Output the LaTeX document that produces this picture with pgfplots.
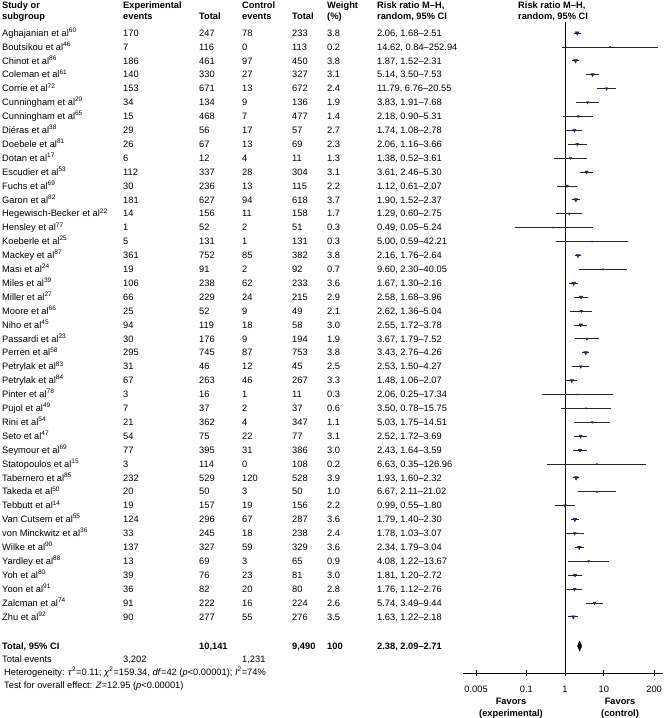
\documentclass[border=0pt]{standalone}
\usepackage{fontspec}
\setmainfont{Liberation Sans}
\usepackage{pgfplots}
\usepackage{pgfplotstable}
\pgfplotsset{compat=1.18}
\definecolor{mk}{HTML}{232A6E}

% row name ref exp-events exp-total ctl-events ctl-total weight rr lo hi
\pgfplotstableread{
row name sup ee et ce ct w rr lo hi
0 Aghajanian 60 170 247 78 233 3.8 2.06 1.68 2.51
1 Boutsikou 46 7 116 0 113 0.2 14.62 0.84 252.94
2 Chinot 86 186 461 97 450 3.8 1.87 1.52 2.31
3 Coleman 61 140 330 27 327 3.1 5.14 3.50 7.53
4 Corrie 72 153 671 13 672 2.4 11.79 6.76 20.55
5 Cunningham 20 34 134 9 136 1.9 3.83 1.91 7.68
6 Cunningham 65 15 468 7 477 1.4 2.18 0.90 5.31
7 Diéras 38 29 56 17 57 2.7 1.74 1.08 2.78
8 Doebele 81 26 67 13 69 2.3 2.06 1.16 3.66
9 Dotan 17 6 12 4 11 1.3 1.38 0.52 3.61
10 Escudier 53 112 337 28 304 3.1 3.61 2.46 5.30
11 Fuchs 69 30 236 13 115 2.2 1.12 0.61 2.07
12 Garon 82 181 627 94 618 3.7 1.90 1.52 2.37
13 Hegewisch-Becker 22 14 156 11 158 1.7 1.29 0.60 2.75
14 Hensley 77 1 52 2 51 0.3 0.49 0.05 5.24
15 Koeberle 25 5 131 1 131 0.3 5.00 0.59 42.21
16 Mackey 87 361 752 85 382 3.8 2.16 1.76 2.64
17 Masi 24 19 91 2 92 0.7 9.60 2.30 40.05
18 Miles 39 106 238 62 233 3.6 1.67 1.30 2.16
19 Miller 27 66 229 24 215 2.9 2.58 1.68 3.96
20 Moore 66 25 52 9 49 2.1 2.62 1.36 5.04
21 Niho 45 94 119 18 58 3.0 2.55 1.72 3.78
22 Passardi 23 30 176 9 194 1.9 3.67 1.79 7.52
23 Perren 58 295 745 87 753 3.8 3.43 2.76 4.26
24 Petrylak 83 31 46 12 45 2.5 2.53 1.50 4.27
25 Petrylak 84 67 263 46 267 3.3 1.48 1.06 2.07
26 Pinter 78 3 16 1 11 0.3 2.06 0.25 17.34
27 Pujol 49 7 37 2 37 0.6 3.50 0.78 15.75
28 Rini 54 21 362 4 347 1.1 5.03 1.75 14.51
29 Seto 47 54 75 22 77 3.1 2.52 1.72 3.69
30 Seymour 69 77 395 31 386 3.0 2.43 1.64 3.59
31 Statopoulos 15 3 114 0 108 0.2 6.63 0.35 126.96
32 Tabernero 85 232 529 120 528 3.9 1.93 1.60 2.32
33 Takeda 50 20 50 3 50 1.0 6.67 2.11 21.02
34 Tebbutt 14 19 157 19 156 2.2 0.99 0.55 1.80
35 {Van Cutsem} 55 124 296 67 287 3.6 1.79 1.40 2.30
36 {von Minckwitz} 36 33 245 18 238 2.4 1.78 1.03 3.07
37 Wilke 90 137 327 59 329 3.6 2.34 1.79 3.04
38 Yardley 88 13 69 3 65 0.9 4.08 1.22 13.67
39 Yoh 80 39 76 23 81 3.0 1.81 1.20 2.72
40 Yoon 91 36 82 20 80 2.8 1.76 1.12 2.76
41 Zalcman 74 91 222 16 224 2.6 5.74 3.49 9.44
42 Zhu 92 90 277 55 276 3.5 1.63 1.22 2.18
}\forest

\newcommand\fs{\fontsize{9.3bp}{11bp}\selectfont}
% text at x, pixel-row centre y (measured from the top)
\newcommand\T[3]{\node[anchor=base west, inner sep=0pt] at (#1,{718-#2-3.3}) {#3};}
\newcommand\C[3]{\node[anchor=base, inner sep=0pt] at (#1,{718-#2-3.3}) {#3};}

\begin{document}
\begin{tikzpicture}[x=1bp, y=1bp, font=\fs]
\useasboundingbox (0,0) rectangle (667,718);

\begin{axis}[
  at={(463bp,45bp)}, anchor=south west,
  scale only axis, width=200bp, height=651bp,
  xmode=log, xmin=0.0023, xmax=340,
  ymin=-46.04, ymax=0.79,
  axis x line=bottom, axis y line=none,
  x axis line style={-, line width=0.7bp},
  xtick={0.005,0.1,1,10,200},
  xticklabels={0.005,0.1,1,10,200},
  minor xtick={},
  tick align=center, major tick length=6bp,
  every tick/.style={black, line width=0.7bp},
  xticklabel style={anchor=base, inner sep=0pt, yshift=-16.3bp, font=\fs},
  clip=false,
]
% line of no effect
\addplot[black, line width=0.7bp] coordinates {(1,0.79) (1,-46.04)};
% confidence intervals
\pgfplotsinvokeforeach{0,...,42}{
  \pgfplotstablegetelem{#1}{lo}\of\forest\let\clo\pgfplotsretval
  \pgfplotstablegetelem{#1}{hi}\of\forest\let\chig\pgfplotsretval
  \addplot[black!85, line width=0.7bp, forget plot] coordinates {(\clo,-#1) (\chig,-#1)};
}
% point estimates, size by weight
\addplot[scatter, only marks, mark=triangle*,
  scatter/use mapped color={draw=mk, fill=mk},
  visualization depends on={\thisrow{w}\as\wt},
  scatter/@pre marker code/.append style={/tikz/mark size=0.7+0.42*\wt, /tikz/rotate=180}]
  table[x=rr, y expr=-\thisrow{row}] {\forest};
% pooled estimate
\addplot[fill=black, draw=black] coordinates {(2.09,-44.1) (2.38,-43.74) (2.71,-44.1) (2.38,-44.46)} -- cycle;
\end{axis}

% headers
\begin{scope}[font=\fs\bfseries]
\T{2}{5.5}{Study or}   \T{2}{16}{subgroup}
\T{123}{5.5}{Experimental} \T{123}{16}{events}
\T{199}{16}{Total}
\T{242}{5.5}{Control} \T{242}{16}{events}
\T{292}{16}{Total}
\T{327}{5.5}{Weight} \T{327}{16}{(\%)}
\T{377}{5.5}{Risk ratio M--H,} \T{377}{16}{random, 95\% CI}
\T{518}{5.5}{Risk ratio M--H,} \T{518}{16}{random, 95\% CI}
\end{scope}

% study rows
\foreach \i in {0,...,42}{%
  \pgfmathsetmacro\pc{33+13.9*\i}%
  \pgfplotstablegetelem{\i}{name}\of\forest\let\vname\pgfplotsretval
  \pgfplotstablegetelem{\i}{sup}\of\forest\let\vsup\pgfplotsretval
  \pgfplotstablegetelem{\i}{ee}\of\forest\let\vee\pgfplotsretval
  \pgfplotstablegetelem{\i}{et}\of\forest\let\vet\pgfplotsretval
  \pgfplotstablegetelem{\i}{ce}\of\forest\let\vce\pgfplotsretval
  \pgfplotstablegetelem{\i}{ct}\of\forest\let\vct\pgfplotsretval
  \pgfplotstablegetelem{\i}{w}\of\forest\let\vw\pgfplotsretval
  \pgfplotstablegetelem{\i}{rr}\of\forest\let\vrr\pgfplotsretval
  \pgfplotstablegetelem{\i}{lo}\of\forest\let\vlo\pgfplotsretval
  \pgfplotstablegetelem{\i}{hi}\of\forest\let\vhi\pgfplotsretval
  \T{2}{\pc}{\vname\ et al\textsuperscript{\vsup}}
  \T{123}{\pc}{\vee}
  \T{199}{\pc}{\vet}
  \T{242}{\pc}{\vce}
  \T{292}{\pc}{\vct}
  \T{327}{\pc}{\vw}
  \T{377}{\pc}{\vrr, \vlo--\vhi}
}

% totals
\begin{scope}[font=\fs\bfseries]
\T{2}{646}{Total, 95\% CI}
\T{199}{646}{10,141}
\T{292}{646}{9,490}
\T{327}{646}{100}
\T{377}{646}{2.38, 2.09--2.71}
\end{scope}
\T{2}{659}{Total events}
\T{123}{659}{3,202}
\T{242}{659}{1,231}
\T{4}{672}{Heterogeneity: \textit{τ}\textsuperscript{2}=0.11; \textit{χ}\textsuperscript{2}=159.34, \textit{df}=42 (\textit{p}<0.00001); \textit{I}\textsuperscript{2}=74\%}
\T{4}{685}{Test for overall effect: \textit{Z}=12.95 (\textit{p}<0.00001)}

% favours
\begin{scope}[font=\fs\bfseries]
\C{511}{701}{Favors}
\C{511}{713}{(experimental)}
\C{620}{701}{Favors}
\C{620}{713}{(control)}
\end{scope}
\end{tikzpicture}
\end{document}
